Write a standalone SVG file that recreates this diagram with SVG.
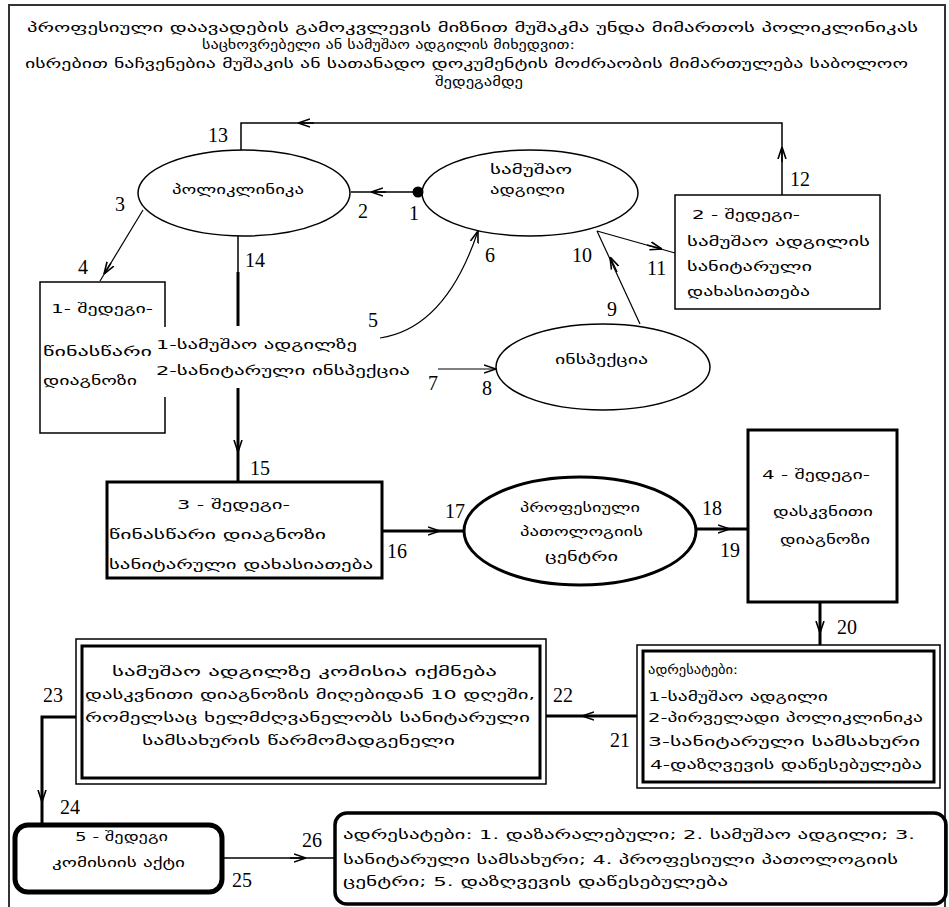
<svg xmlns="http://www.w3.org/2000/svg" width="949" height="907" viewBox="0 0 949 907">
<style>
.g{font-family:"DejaVu Sans","Noto Sans",sans-serif;font-size:13px;fill:#000}
.n{font-family:"Liberation Serif","Times New Roman",serif;font-size:20px;fill:#000}
.thin{fill:none;stroke:#000;stroke-width:1.5}
.thick{fill:none;stroke:#000;stroke-width:3}
.ln{fill:none;stroke:#000;stroke-width:1.2}
.lt{fill:none;stroke:#000;stroke-width:3}
.ar{fill:none;stroke:#000;stroke-width:1.5;marker-end:url(#ah)}
</style>
<defs>
<marker id="ah" viewBox="0 0 12 10" refX="12" refY="5" markerWidth="12" markerHeight="10" markerUnits="userSpaceOnUse" orient="auto"><path d="M0,1 L12,5 L0,9" fill="none" stroke="#000" stroke-width="1.6"/></marker>
</defs>
<rect width="949" height="907" fill="#fff"/>
<rect x="9" y="5" width="936" height="910" fill="none" stroke="#333" stroke-width="2"/>

<g id="header">
<text class="g" x="27" y="32" textLength="891" lengthAdjust="spacingAndGlyphs">პროფესიული დაავადების გამოკვლევის მიზნით მუშაკმა უნდა მიმართოს პოლიკლინიკას</text>
<text class="g" x="202" y="49" textLength="373" lengthAdjust="spacingAndGlyphs">საცხოვრებელი ან სამუშაო ადგილის მიხედვით:</text>
<text class="g" x="25" y="68" textLength="883" lengthAdjust="spacingAndGlyphs">ისრებით ნაჩვენებია მუშაკის ან სათანადო დოკუმენტის მოძრაობის მიმართულება საბოლოო</text>
<text class="g" x="435" y="86" textLength="88" lengthAdjust="spacingAndGlyphs">შედეგამდე</text>
</g>

<g id="connectors">
<path class="thin" d="M782,195 V123 H241 V150"/>
<path class="ar" d="M782,162 V147"/>
<path class="ar" d="M314,123 H298"/>
<path class="thin" d="M418,192 H351"/>
<circle cx="418" cy="192" r="5.5" fill="#000"/>
<path class="ar" d="M386,192 H371"/>
<path class="ln" d="M143,210 L100,281"/>
<path class="ar" d="M111,263 L104,274"/>
<path class="thin" d="M238,236 V272"/>
<path class="lt" d="M238,272 V326"/>
<path class="lt" d="M238,388 V482"/>
<path class="ar" d="M238,436 V452"/>
<path class="ln" d="M380,338 C420,332 455,300 478,231" marker-end="url(#ah)"/>
<path class="ln" d="M438,369 H496" marker-end="url(#ah)"/>
<path class="ln" d="M640,324 L597,231"/>
<path class="ar" d="M617,272 L610,257"/>
<path class="ln" d="M597,231 L675,253"/>
<path class="ar" d="M647,245 L662,249"/>
<path class="lt" d="M382,531 H463"/>
<path class="ar" d="M424,531 H440"/>
<path class="lt" d="M696,529 H748"/>
<path class="ar" d="M714,529 H730"/>
<path class="lt" d="M820,602 V645"/>
<path class="ar" d="M820,617 V633"/>
<path class="lt" d="M637,716 H546"/>
<path class="ar" d="M598,716 H582"/>
<path class="lt" d="M76,717 H42 V825"/>
<path class="ar" d="M42,786 V802"/>
<path class="thin" d="M222,858 H335" stroke-width="2"/>
<path class="ar" d="M290,858 H306"/>
</g>

<g id="polyclinic">
<ellipse cx="244" cy="193" rx="106" ry="43" class="thin" stroke-width="2"/>
<text class="g" x="172" y="194" textLength="132" lengthAdjust="spacingAndGlyphs">პოლიკლინიკა</text>
</g>

<g id="workplace">
<ellipse cx="530" cy="193" rx="108" ry="43" class="thin" stroke-width="2"/>
<text class="g" x="490" y="174" textLength="82" lengthAdjust="spacingAndGlyphs">სამუშაო</text>
<text class="g" x="490" y="194" textLength="75" lengthAdjust="spacingAndGlyphs">ადგილი</text>
</g>

<g id="result2">
<rect x="675" y="195" width="205" height="114" class="thin"/>
<text class="g" x="692" y="219" textLength="108" lengthAdjust="spacingAndGlyphs">2 - შედეგი-</text>
<text class="g" x="687" y="246" textLength="183" lengthAdjust="spacingAndGlyphs">სამუშაო ადგილის</text>
<text class="g" x="687" y="271" textLength="125" lengthAdjust="spacingAndGlyphs">სანიტარული</text>
<text class="g" x="687" y="296" textLength="123" lengthAdjust="spacingAndGlyphs">დახასიათება</text>
</g>

<g id="result1">
<path class="thin" d="M165,327 V282 H40 V433 H165 V397"/>
<text class="g" x="51" y="313" textLength="102" lengthAdjust="spacingAndGlyphs">1- შედეგი-</text>
<text class="g" x="43" y="356" textLength="109" lengthAdjust="spacingAndGlyphs">წინასწარი</text>
<text class="g" x="43" y="385" textLength="94" lengthAdjust="spacingAndGlyphs">დიაგნოზი</text>
</g>

<g id="routes">
<text class="g" x="156" y="349" textLength="201" lengthAdjust="spacingAndGlyphs">1-სამუშაო ადგილზე</text>
<text class="g" x="156" y="375" textLength="254" lengthAdjust="spacingAndGlyphs">2-სანიტარული ინსპექცია</text>
</g>

<g id="inspection">
<ellipse cx="603" cy="367" rx="107" ry="43" class="thin" stroke-width="2"/>
<text class="g" x="555" y="364" textLength="93" lengthAdjust="spacingAndGlyphs">ინსპექცია</text>
</g>

<g id="result3">
<rect x="107" y="482" width="275" height="96" class="thick"/>
<text class="g" x="177" y="509" textLength="113" lengthAdjust="spacingAndGlyphs">3 - შედეგი-</text>
<text class="g" x="109" y="539" textLength="217" lengthAdjust="spacingAndGlyphs">წინასწარი დიაგნოზი</text>
<text class="g" x="109" y="569" textLength="264" lengthAdjust="spacingAndGlyphs">სანიტარული დახასიათება</text>
</g>

<g id="center">
<ellipse cx="580" cy="531" rx="116" ry="54" class="thick" stroke-width="3.5"/>
<text class="g" x="520" y="512" textLength="120" lengthAdjust="spacingAndGlyphs">პროფესიული</text>
<text class="g" x="520" y="536" textLength="123" lengthAdjust="spacingAndGlyphs">პათოლოგიის</text>
<text class="g" x="545" y="561" textLength="73" lengthAdjust="spacingAndGlyphs">ცენტრი</text>
</g>

<g id="result4">
<rect x="748" y="430" width="149" height="172" class="thick" stroke-width="3.5"/>
<text class="g" x="762" y="479" textLength="108" lengthAdjust="spacingAndGlyphs">4 - შედეგი-</text>
<text class="g" x="773" y="516" textLength="100" lengthAdjust="spacingAndGlyphs">დასკვნითი</text>
<text class="g" x="780" y="544" textLength="90" lengthAdjust="spacingAndGlyphs">დიაგნოზი</text>
</g>

<g id="addressees1">
<rect x="637" y="645" width="303" height="143" class="thin"/>
<rect x="643" y="651" width="291" height="131" class="thick"/>
<text class="g" x="648" y="674" textLength="90" lengthAdjust="spacingAndGlyphs">ადრესატები:</text>
<text class="g" x="648" y="701" textLength="180" lengthAdjust="spacingAndGlyphs">1-სამუშაო ადგილი</text>
<text class="g" x="648" y="722" textLength="275" lengthAdjust="spacingAndGlyphs">2-პირველადი პოლიკლინიკა</text>
<text class="g" x="648" y="746" textLength="272" lengthAdjust="spacingAndGlyphs">3-სანიტარული სამსახური</text>
<text class="g" x="650" y="769" textLength="272" lengthAdjust="spacingAndGlyphs">4-დაზღვევის დაწესებულება</text>
</g>

<g id="commission">
<rect x="76" y="639" width="470" height="145" class="thin"/>
<rect x="82" y="646" width="458" height="132" class="thick"/>
<text class="g" x="112" y="676" textLength="385" lengthAdjust="spacingAndGlyphs">სამუშაო ადგილზე კომისია იქმნება</text>
<text class="g" x="85" y="699" textLength="450" lengthAdjust="spacingAndGlyphs">დასკვნითი დიაგნოზის მიღებიდან 10 დღეში,</text>
<text class="g" x="85" y="722" textLength="445" lengthAdjust="spacingAndGlyphs">რომელსაც ხელმძღვანელობს სანიტარული</text>
<text class="g" x="142" y="745" textLength="313" lengthAdjust="spacingAndGlyphs">სამსახურის წარმომადგენელი</text>
</g>

<g id="result5">
<rect x="15" y="825" width="207" height="67" rx="13" ry="13" fill="none" stroke="#000" stroke-width="5"/>
<text class="g" x="75" y="841" textLength="93" lengthAdjust="spacingAndGlyphs">5 - შედეგი</text>
<text class="g" x="52" y="867" textLength="133" lengthAdjust="spacingAndGlyphs">კომისიის აქტი</text>
</g>

<g id="addressees2">
<rect x="335" y="813" width="611" height="91" rx="12" ry="12" fill="none" stroke="#000" stroke-width="3.5"/>
<text class="g" x="343" y="839" textLength="572" lengthAdjust="spacingAndGlyphs">ადრესატები: 1. დაზარალებული; 2. სამუშაო ადგილი; 3.</text>
<text class="g" x="343" y="864" textLength="555" lengthAdjust="spacingAndGlyphs">სანიტარული სამსახური; 4. პროფესიული პათოლოგიის</text>
<text class="g" x="343" y="886" textLength="385" lengthAdjust="spacingAndGlyphs">ცენტრი; 5. დაზღვევის დაწესებულება</text>
</g>

<g id="labels">
<text class="n" x="208" y="142">13</text>
<text class="n" x="115" y="211">3</text>
<text class="n" x="358" y="218">2</text>
<text class="n" x="409" y="220">1</text>
<text class="n" x="245" y="267">14</text>
<text class="n" x="78" y="274">4</text>
<text class="n" x="790" y="186">12</text>
<text class="n" x="485" y="262">6</text>
<text class="n" x="572" y="262">10</text>
<text class="n" x="647" y="275">11</text>
<text class="n" x="607" y="316">9</text>
<text class="n" x="368" y="327">5</text>
<text class="n" x="428" y="390">7</text>
<text class="n" x="482" y="395">8</text>
<text class="n" x="250" y="475">15</text>
<text class="n" x="387" y="558">16</text>
<text class="n" x="445" y="518">17</text>
<text class="n" x="702" y="515">18</text>
<text class="n" x="720" y="557">19</text>
<text class="n" x="837" y="634">20</text>
<text class="n" x="553" y="702">22</text>
<text class="n" x="610" y="747">21</text>
<text class="n" x="43" y="702">23</text>
<text class="n" x="60" y="814">24</text>
<text class="n" x="302" y="847">26</text>
<text class="n" x="232" y="887">25</text>
</g>
</svg>
